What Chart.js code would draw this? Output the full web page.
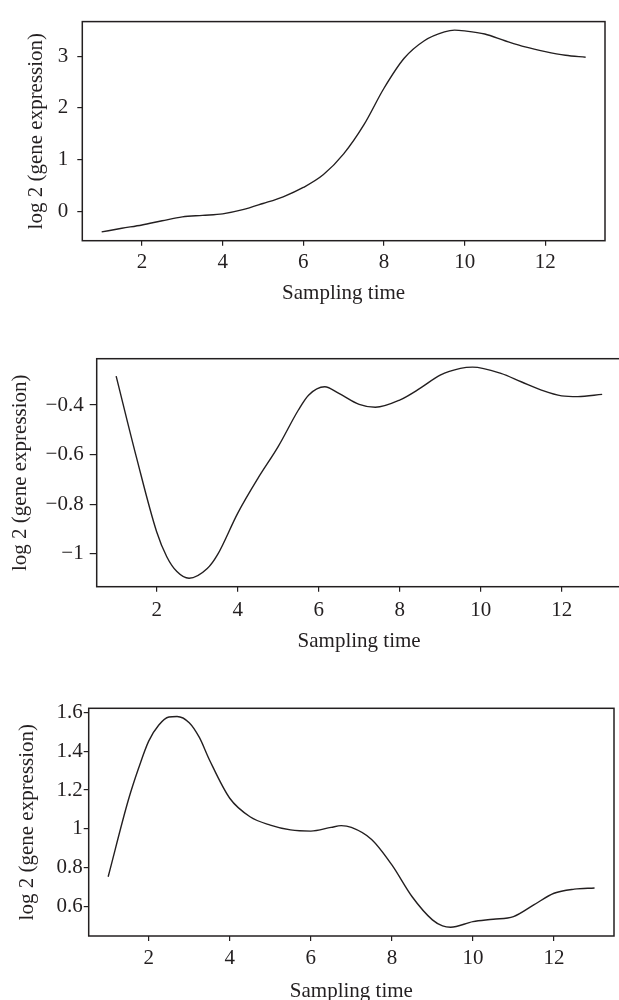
<!DOCTYPE html>
<html>
<head>
<meta charset="utf-8">
<script src="https://cdn.jsdelivr.net/npm/chart.js@4/dist/chart.umd.min.js"></script>
<style>
  body { margin: 0; background: #fff; width: 619px; height: 1000px; overflow: hidden; position: relative; }
  .box { position: absolute; left: 0; }
</style>
</head>
<body>
<div class="box" id="w1" style="top:0px;width:619px;height:320px"><canvas id="c1"></canvas></div>
<div class="box" id="w2" style="top:320px;width:650px;height:340px"><canvas id="c2"></canvas></div>
<div class="box" id="w3" style="top:660px;width:619px;height:350px"><canvas id="c3"></canvas></div>
<script>
// valores
const xTicks = [2, 4, 6, 8, 10, 12]
const xRange = [0.52, 13.48]

const times1 = [1, 1.5, 2, 2.5, 3, 3.5, 4, 4.5, 5, 5.5, 6, 6.5, 7, 7.5, 8, 8.5, 9, 9.5, 9.75, 10, 10.5, 11, 11.5, 12, 12.5, 13]
const gene1 = [-0.40, -0.33, -0.265, -0.185, -0.11, -0.08, -0.05, 0.03, 0.15, 0.28, 0.46, 0.71, 1.11, 1.67, 2.38, 2.96, 3.30, 3.47, 3.505, 3.49, 3.43, 3.30, 3.18, 3.09, 3.02, 2.98]
const yTicks1 = [0, 1, 2, 3]
const yLabels1 = ["0", "1", "2", "3"]
const yRange1 = [-0.57, 3.67]

const times2 = [1, 1.5, 2, 2.25, 2.5, 2.8, 3.25, 3.5, 4, 4.5, 5, 5.5, 5.75, 6.15, 6.5, 7, 7.4, 8, 8.5, 9, 9.5, 9.8, 10.5, 11, 11.5, 12, 12.4, 13]
const gene2 = [-0.283, -0.61, -0.911, -1.012, -1.072, -1.099, -1.06, -1.005, -0.837, -0.696, -0.568, -0.42, -0.36, -0.326, -0.353, -0.397, -0.409, -0.38, -0.333, -0.279, -0.252, -0.247, -0.272, -0.306, -0.34, -0.363, -0.366, -0.357]
const yTicks2 = [-1, -0.8, -0.6, -0.4]
const yLabels2 = ["\u22121", "\u22120.8", "\u22120.6", "\u22120.4"]
const yRange2 = [-1.133, -0.213]

const times3 = [1, 1.5, 1.75, 2, 2.25, 2.5, 2.7, 3, 3.25, 3.5, 4, 4.5, 5, 5.5, 6, 6.5, 6.75, 7, 7.5, 8, 8.5, 9, 9.25, 9.45, 10, 10.5, 11, 11.5, 12, 12.5, 13]
const gene3 = [0.754, 1.15, 1.312, 1.452, 1.535, 1.576, 1.579, 1.547, 1.471, 1.355, 1.158, 1.063, 1.02, 0.995, 0.989, 1.008, 1.017, 1.008, 0.946, 0.815, 0.651, 0.532, 0.501, 0.494, 0.523, 0.535, 0.549, 0.609, 0.669, 0.69, 0.696]
const yTicks3 = [0.6, 0.8, 1, 1.2, 1.4, 1.6]
const yLabels3 = ["0.6", "0.8", "1", "1.2", "1.4", "1.6"]
const yRange3 = [0.449, 1.621]

const tinta = "#231f20"
const fonte = "'Liberation Serif', 'DejaVu Serif', serif"

// moldura em volta da area do grafico
const moldura = {
    id: "moldura",
    afterDraw(chart) {
        const a = chart.chartArea
        const ctx = chart.ctx
        ctx.save()
        ctx.strokeStyle = tinta
        ctx.lineWidth = 1.5
        ctx.strokeRect(a.left, a.top, a.right - a.left, a.bottom - a.top)
        ctx.restore()
    }
}

function desenhar(id, times, gene, yTicks, yLabels, yRange, g) {
    const wrap = document.getElementById(id).parentNode
    const W = wrap.clientWidth, H = wrap.clientHeight
    new Chart(document.getElementById(id), {
        type: "line",
        data: { datasets: [{
            data: times.map((t, i) => ({ x: t, y: gene[i] })),
            borderColor: tinta, borderWidth: 1.4, pointRadius: 0,
            cubicInterpolationMode: "monotone", fill: false
        }]},
        options: {
            responsive: true, maintainAspectRatio: false, animation: false,
            events: [],
            layout: { padding: { left: 0, top: g.top, right: W - g.right, bottom: 0 } },
            plugins: { legend: { display: false }, tooltip: { enabled: false } },
            scales: {
                x: {
                    type: "linear", min: xRange[0], max: xRange[1],
                    afterBuildTicks: s => { s.ticks = xTicks.map(v => ({ value: v })) },
                    afterFit: s => { s.height = H - g.bottom },
                    grid: { display: true, drawOnChartArea: false, drawTicks: true, tickLength: g.xTick, color: tinta, lineWidth: 1.2 },
                    border: { display: false },
                    ticks: { padding: g.xPad, color: tinta, font: { family: fonte, size: 21 }, maxRotation: 0, callback: v => String(v) },
                    title: { display: true, text: "Sampling time", color: tinta, font: { family: fonte, size: 21 }, padding: { top: 0, bottom: g.xTitle } }
                },
                y: {
                    type: "linear", min: yRange[0], max: yRange[1],
                    afterBuildTicks: s => { s.ticks = yTicks.map(v => ({ value: v })) },
                    afterFit: s => { s.width = g.left },
                    grid: { display: true, drawOnChartArea: false, drawTicks: true, tickLength: g.yTick, color: tinta, lineWidth: 1.2 },
                    border: { display: false },
                    ticks: { padding: g.yPad, color: tinta, font: { family: fonte, size: 21 },
                        callback: v => yLabels[yTicks.indexOf(v)] },
                    title: { display: true, text: "log 2 (gene expression)", color: tinta, font: { family: fonte, size: 21 }, padding: { top: g.yTitle, bottom: 0 } }
                }
            }
        },
        plugins: [moldura]
    })
}

desenhar("c1", times1, gene1, yTicks1, yLabels1, yRange1,
    { left: 82.3, right: 605, top: 12.3, bottom: 240.7, xTick: 5, xPad: 4.4, yTick: 5, yPad: 9, xTitle: 14.4, yTitle: 23.4 })
desenhar("c2", times2, gene2, yTicks2, yLabels2, yRange2,
    { left: 96.7, right: 621.6, top: 38.7, bottom: 266.7, xTick: 5, xPad: 5.7, yTick: 7, yPad: 6, xTitle: 5.7, yTitle: 7.9 })
desenhar("c3", times3, gene3, yTicks3, yLabels3, yRange3,
    { left: 88.7, right: 614, top: 48.3, bottom: 276, xTick: 5, xPad: 4.4, yTick: 5, yPad: 1, xTitle: 5.7, yTitle: 14.9 })
</script>
</body>
</html>
